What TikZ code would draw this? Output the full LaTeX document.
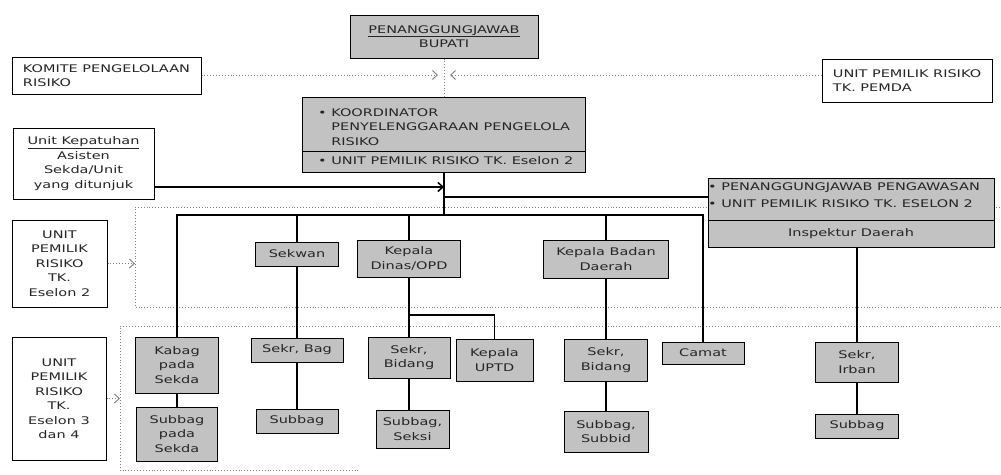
\documentclass[tikz,border=0pt]{standalone}
\usepackage{fontspec}
\setmainfont{DejaVu Sans}[FakeStretch=1.38]
\usetikzlibrary{arrows.meta}
\definecolor{boxgray}{gray}{0.76}
\definecolor{inkgray}{gray}{0.15}

\begin{document}
\begin{tikzpicture}
    [x=1pt, y=-1pt,
      every node/.style={font=\fontsize{10.5}{14.5}\selectfont, text=inkgray},
      box/.style={draw, line width=1pt, fill=boxgray, inner sep=1pt, align=center},
      plain/.style={draw, line width=1pt, fill=white, inner sep=1pt, align=center},
      link/.style={line width=1.5pt},
      dots/.style={draw=gray, dotted, line width=0.9pt},
      tip/.style={-{Straight Barb[length=5pt,width=9pt]}},
    ]
    \fill[white] (0,0) rectangle (1001,474);

    % dotted areas for the two risk owner levels
    \draw[dots] (1000,207) -- (135,207) -- (135,307) -- (1000,307);
    \draw[dots] (1000,326) -- (120,326) -- (120,470) -- (360,470);

    % top level
    \node [box, minimum width=188pt, minimum height=43pt] (bupati) at (444,36.5) {\underline{PENANGGUNGJAWAB}\\BUPATI};
    \node [plain, minimum width=189pt, minimum height=37pt, align=left] (komite) at (106.5,75.5) {KOMITE PENGELOLAAN\\RISIKO};
    \node [plain, minimum width=170pt, minimum height=43pt, align=left] (pemda) at (907,80.5) {UNIT PEMILIK RISIKO\\TK. PEMDA};
    \node [box, minimum width=283pt, minimum height=75pt] (koord) at (444,134.5) {};
    \draw [line width=1pt] (koord.west |- 0,151) -- (koord.east |- 0,151);
    \node [anchor=west, inner sep=0pt, align=left] (koordtxt) at (318,127) {•~KOORDINATOR\\\hphantom{•~}PENYELENGGARAAN PENGELOLA\\\hphantom{•~}RISIKO};
    \node [anchor=west, inner sep=0pt] (koordunit) at (318,161) {•~UNIT PEMILIK RISIKO TK. Eselon 2};
    \node [plain, minimum width=141pt, minimum height=71pt] (kepatuhan) at (83.5,163.5) {\underline{Unit Kepatuhan}\\Asisten\\Sekda/Unit\\yang ditunjuk};

    % inspektorat
    \node [box, minimum width=286pt, minimum height=69pt] (inspektur) at (851,212.5) {};
    \draw [line width=1pt] (inspektur.west |- 0,220) -- (inspektur.east |- 0,220);
    \node [anchor=west, inner sep=0pt] (pengawas) at (708,188) {•~PENANGGUNGJAWAB PENGAWASAN};
    \node [anchor=west, inner sep=0pt] (unitpengawas) at (708,204) {•~UNIT PEMILIK RISIKO TK. ESELON 2};
    \node (inspda) at (851,234) {Inspektur Daerah};

    % level labels
    \node [plain, minimum width=95pt, minimum height=87pt] (eselon2) at (59.5,263.5) {UNIT\\PEMILIK\\RISIKO\\TK.\\Eselon 2};
    \node [plain, minimum width=94pt, minimum height=123pt] (eselon34) at (59,398.5) {UNIT\\PEMILIK\\RISIKO\\TK.\\Eselon 3\\dan 4};

    % eselon 2 units
    \node [box, minimum width=83pt, minimum height=24pt] (sekwan) at (297,254) {Sekwan};
    \node [box, minimum width=103pt, minimum height=37pt] (kadinas) at (409,258.5) {Kepala\\Dinas/OPD};
    \node [box, minimum width=125pt, minimum height=38pt] (kabadan) at (606,259) {Kepala Badan\\Daerah};

    % eselon 3 and 4 units
    \node [box, minimum width=83pt, minimum height=56pt] (kabag) at (177,365) {Kabag\\pada\\Sekda};
    \node [box, minimum width=81pt, minimum height=54pt] (subsekda) at (177,434) {Subbag\\pada\\Sekda};
    \node [box, minimum width=92pt, minimum height=24pt] (sekrbag) at (297,350) {Sekr, Bag};
    \node [box, minimum width=82pt, minimum height=24pt] (subbag) at (297,421) {Subbag};
    \node [box, minimum width=82pt, minimum height=41pt] (sekrbidang) at (409,357.5) {Sekr,\\Bidang};
    \node [box, minimum width=77pt, minimum height=42pt] (uptd) at (494.5,360) {Kepala\\UPTD};
    \node [box, minimum width=73pt, minimum height=38pt] (subseksi) at (412.5,429) {Subbag,\\Seksi};
    \node [box, minimum width=83pt, minimum height=42pt] (sekrbadan) at (606,360) {Sekr,\\Bidang};
    \node [box, minimum width=84pt, minimum height=41pt] (subbid) at (606,431.5) {Subbag,\\Subbid};
    \node [box, minimum width=82pt, minimum height=22pt] (camat) at (703,353) {Camat};
    \node [box, minimum width=83pt, minimum height=40pt] (sekrirban) at (857,362) {Sekr,\\Irban};
    \node [box, minimum width=83pt, minimum height=24pt] (subirban) at (857,426) {Subbag};

    % dotted reporting lines
    \coordinate (meet) at (444,75);
    \coordinate (area2) at (135,263.5);
    \coordinate (area34) at (120,398.5);
    \draw [dots] (bupati.south) -- (koord.north);
    \draw [dots, tip, shorten >=6pt] (komite.east |- meet) -- (meet);
    \draw [dots, tip, shorten >=6pt] (pemda.west |- meet) -- (meet);
    \draw [dots, tip] (eselon2.east) -- (area2);
    \draw [dots, tip] (eselon34.east) -- (area34);

    % solid lines
    \coordinate (spine1) at (444,187);
    \coordinate (spine2) at (444,197);
    \coordinate (bus) at (444,215);
    \coordinate (dinasfork) at (409,315);
    \draw [link] (koord.south) -- (bus);
    \draw [link, tip] (kepatuhan.east |- spine1) -- (spine1);
    \draw [link] (spine2) -- (spine2 -| inspektur.west);
    \draw [link] (kabag.north) |- (bus) -| (camat.north);
    \draw [link] (sekwan.north |- bus) -- (sekwan.north);
    \draw [link] (kadinas.north |- bus) -- (kadinas.north);
    \draw [link] (kabadan.north |- bus) -- (kabadan.north);
    \draw [link] (kabag.south) -- (subsekda.north);
    \draw [link] (sekwan.south) -- (sekrbag.north);
    \draw [link] (sekrbag.south) -- (subbag.north);
    \draw [link] (kadinas.south) -- (sekrbidang.north);
    \draw [link] (dinasfork) -| (uptd.north);
    \draw [link] (sekrbidang.south) -- (sekrbidang.south |- subseksi.north);
    \draw [link] (kabadan.south) -- (sekrbadan.north);
    \draw [link] (sekrbadan.south) -- (subbid.north);
    \draw [link] (sekrirban.north |- inspektur.south) -- (sekrirban.north);
    \draw [link] (sekrirban.south) -- (subirban.north);
  \end{tikzpicture}
\end{document}
